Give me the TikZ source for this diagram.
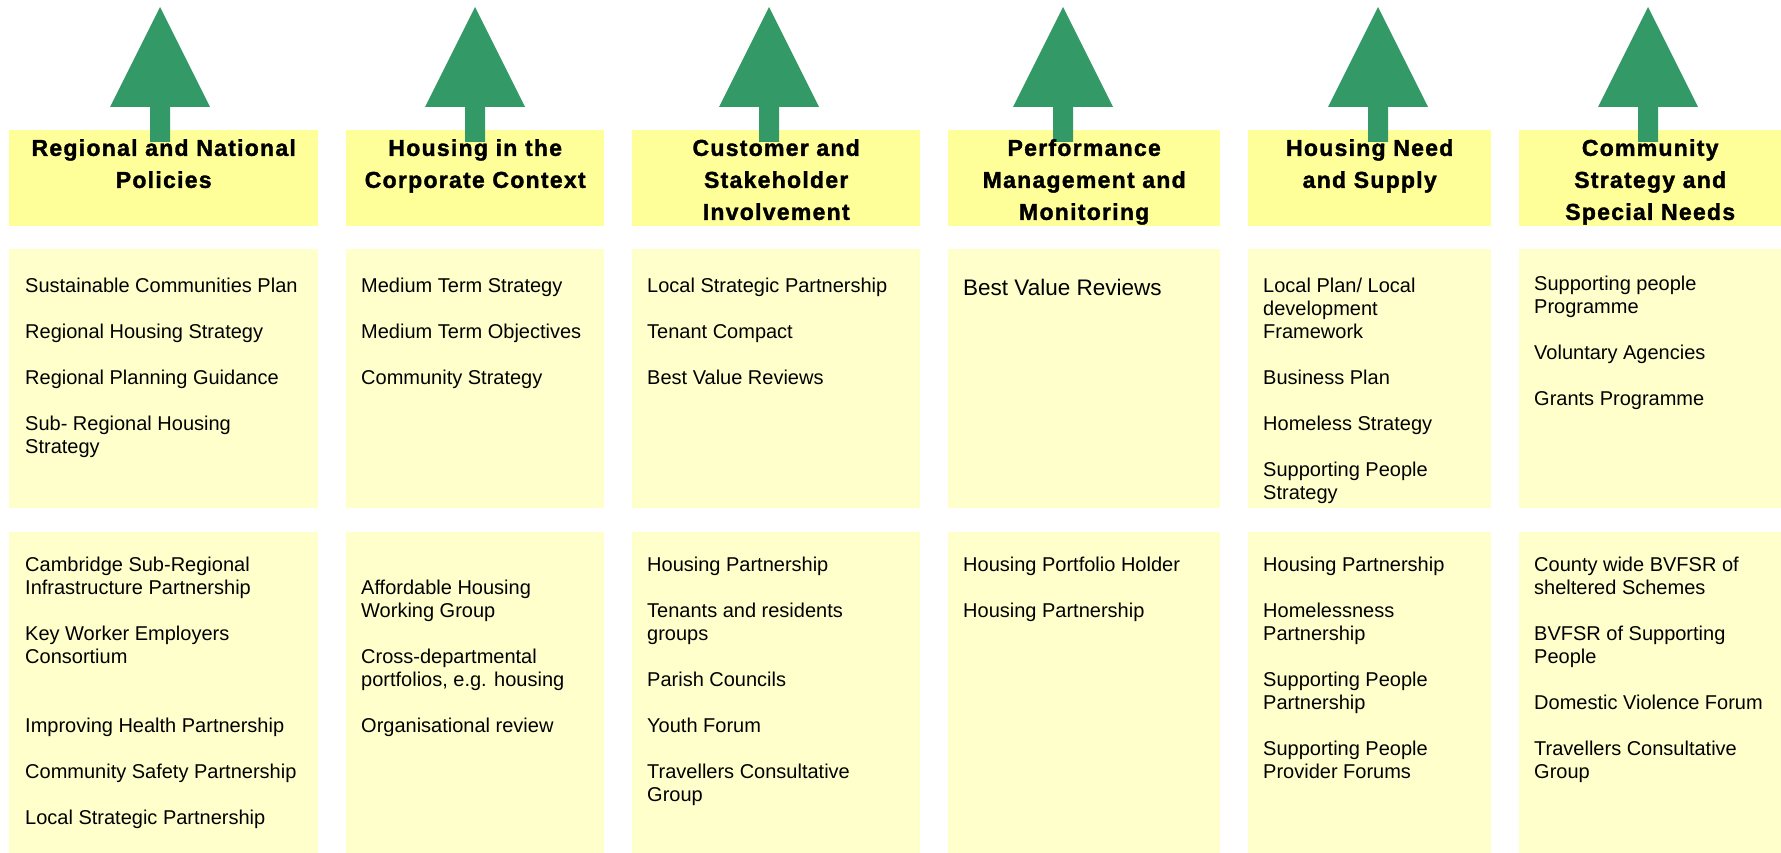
\documentclass[tikz,border=0pt]{standalone}
\usepackage{fontspec}
\setmainfont{Liberation Sans}
\newfontfamily\headfont[LetterSpace=5.5,BoldFeatures={FakeBold=1.6}]{Liberation Sans}
\usepackage{tikz}
\usetikzlibrary{positioning}
\definecolor{headyellow}{RGB}{255,255,153}
\definecolor{listyellow}{RGB}{255,255,204}
\definecolor{arrowgreen}{RGB}{51,153,102}

\begin{document}
\begin{tikzpicture}[x=1pt,y=-1pt,
  headbox/.style={rectangle,fill=headyellow,inner sep=0pt,
    anchor=north west,minimum height=96pt},
  midbox/.style={rectangle,fill=listyellow,inner sep=0pt,
    anchor=north west,minimum height=259pt},
  lowbox/.style={rectangle,fill=listyellow,inner sep=0pt,
    anchor=north west,minimum height=321pt},
  title/.style={font=\headfont\bfseries\fontsize{23}{32}\selectfont,
    align=center,inner sep=0pt,execute at begin node=\strut},
  items/.style={font=\fontsize{20}{23}\selectfont,
    align=left,inner sep=0pt,execute at begin node=\strut},
  uparrow/.style={fill=arrowgreen}
]
\useasboundingbox (0,0) rectangle (1781,853);

% header boxes
\node[headbox,minimum width=309pt] (hd1) at (9,130) {};
\node[headbox,minimum width=258pt] (hd2) at (346,130) {};
\node[headbox,minimum width=288pt] (hd3) at (632,130) {};
\node[headbox,minimum width=272pt] (hd4) at (948,130) {};
\node[headbox,minimum width=243pt] (hd5) at (1248,130) {};
\node[headbox,minimum width=262pt] (hd6) at (1519,130) {};

% middle and lower lists
\node[midbox,minimum width=309pt] (md1) at (9,249) {};
\node[midbox,minimum width=258pt] (md2) at (346,249) {};
\node[midbox,minimum width=288pt] (md3) at (632,249) {};
\node[midbox,minimum width=272pt] (md4) at (948,249) {};
\node[midbox,minimum width=243pt] (md5) at (1248,249) {};
\node[midbox,minimum width=262pt] (md6) at (1519,249) {};

\node[lowbox,minimum width=309pt] (lw1) at (9,532) {};
\node[lowbox,minimum width=258pt] (lw2) at (346,532) {};
\node[lowbox,minimum width=288pt] (lw3) at (632,532) {};
\node[lowbox,minimum width=272pt] (lw4) at (948,532) {};
\node[lowbox,minimum width=243pt] (lw5) at (1248,532) {};
\node[lowbox,minimum width=262pt] (lw6) at (1519,532) {};

% green arrows above each column
\foreach \ax in {160,475,769,1063,1378,1648}
  \fill[uparrow] (\ax-10,142) -- (\ax-10,107) -- (\ax-50,107) -- (\ax,7)
    -- (\ax+50,107) -- (\ax+10,107) -- (\ax+10,142) -- cycle;

% column titles
\node[title,below=9pt of hd1.north] (hd1t) {Regional and National\\Policies};
\node[title,below=9pt of hd2.north] (hd2t) {Housing in the\\Corporate Context};
\node[title,below=9pt of hd3.north] (hd3t) {Customer and\\Stakeholder\\Involvement};
\node[title,below=9pt of hd4.north] (hd4t) {Performance\\Management and\\Monitoring};
\node[title,below=9pt of hd5.north] (hd5t) {Housing Need\\and Supply};
\node[title,below=9pt of hd6.north] (hd6t) {Community\\Strategy and\\Special Needs};

% strategies
\node[items,below right=28.5pt and 16pt of md1.north west] (md1t)
  {Sustainable Communities Plan\\[23pt]Regional Housing Strategy\\[23pt]%
   Regional Planning Guidance\\[23pt]Sub- Regional Housing\\Strategy};
\node[items,below right=28.5pt and 15pt of md2.north west] (md2t)
  {Medium Term Strategy\\[23pt]Medium Term Objectives\\[23pt]Community Strategy};
\node[items,below right=28.5pt and 15pt of md3.north west] (md3t)
  {Local Strategic Partnership\\[23pt]Tenant Compact\\[23pt]Best Value Reviews};
\node[items,font=\fontsize{22.5}{26}\selectfont,
  below right=28.5pt and 15pt of md4.north west] (md4t) {Best Value Reviews};
\node[items,below right=28.5pt and 15pt of md5.north west] (md5t)
  {Local Plan/ Local\\development\\Framework\\[23pt]Business Plan\\[23pt]%
   Homeless Strategy\\[23pt]Supporting People\\Strategy};
\node[items,below right=27pt and 15pt of md6.north west] (md6t)
  {Supporting people\\Programme\\[23pt]Voluntary Agencies\\[23pt]Grants Programme};

% partnerships
\node[items,below right=25pt and 16pt of lw1.north west] (lw1t)
  {Cambridge Sub-Regional\\Infrastructure Partnership\\[23pt]%
   Key Worker Employers\\Consortium\\[46pt]Improving Health Partnership\\[23pt]%
   Community Safety Partnership\\[23pt]Local Strategic Partnership};
\node[items,below right=48pt and 15pt of lw2.north west] (lw2t)
  {Affordable Housing\\Working Group\\[23pt]Cross-departmental\\%
   portfolios, e.g. housing\\[23pt]Organisational review};
\node[items,below right=25pt and 15pt of lw3.north west] (lw3t)
  {Housing Partnership\\[23pt]Tenants and residents\\groups\\[23pt]%
   Parish Councils\\[23pt]Youth Forum\\[23pt]Travellers Consultative\\Group};
\node[items,below right=25pt and 15pt of lw4.north west] (lw4t)
  {Housing Portfolio Holder\\[23pt]Housing Partnership};
\node[items,below right=25pt and 15pt of lw5.north west] (lw5t)
  {Housing Partnership\\[23pt]Homelessness\\Partnership\\[23pt]%
   Supporting People\\Partnership\\[23pt]Supporting People\\Provider Forums};
\node[items,below right=25pt and 15pt of lw6.north west] (lw6t)
  {County wide BVFSR of\\sheltered Schemes\\[23pt]BVFSR of Supporting\\People\\[23pt]%
   Domestic Violence Forum\\[23pt]Travellers Consultative\\Group};
\end{tikzpicture}
\end{document}
